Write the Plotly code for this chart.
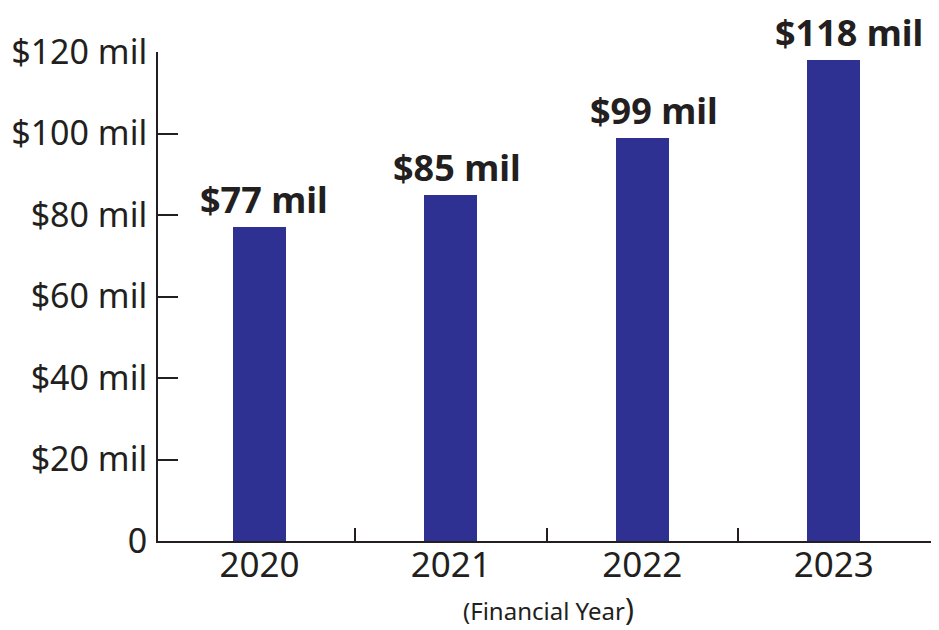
import plotly.graph_objects as go

years = ["2020", "2021", "2022", "2023"]
revenue = [77, 85, 99, 118]
bar_labels = ["$77 mil", "$85 mil", "$99 mil", "$118 mil"]
y_tick_values = [0, 20, 40, 60, 80, 100, 120]
y_tick_labels = ["0", "$20 mil", "$40 mil", "$60 mil", "$80 mil", "$100 mil", "$120 mil"]
x_title = "(Financial Year"

x_pos = list(range(len(years)))
INK = "#231f20"
BAR = "#2e3192"
FONT = "Noto Sans"
label_nudge_px = [5, 6, 12, 15]  # horizontal pixel nudges of the value labels (styling)

fig = go.Figure()
fig.add_trace(go.Bar(x=x_pos, y=revenue, width=0.277, marker=dict(color=BAR, line=dict(width=0)),
                     hoverinfo="skip"))

for xp, v, t, dx in zip(x_pos, revenue, bar_labels, label_nudge_px):
    fig.add_annotation(x=xp, y=v, text="<b>" + t + "</b>", showarrow=False, yanchor="bottom",
                       yshift=2, xshift=dx, borderpad=0, font=dict(family=FONT, size=36, color=INK))

# x-axis title as a paper annotation so it can sit at the very bottom edge
fig.add_annotation(xref="paper", yref="paper", x=0.5, y=0, yanchor="bottom", yshift=-89,
                   text=x_title + "<span style='font-size:30px'>)</span>", showarrow=False,
                   borderpad=0, font=dict(family=FONT, size=24, color=INK))

# page body has an 8px default margin, so the figure is sized to fill the rest of the window
fig.update_layout(
    width=931, height=622,
    margin=dict(l=150, r=0, t=44, b=89),
    paper_bgcolor="white", plot_bgcolor="white",
    showlegend=False,
    bargap=0,
    font=dict(family=FONT, color=INK),
)
fig.update_xaxes(
    range=[-0.53, 3.55],
    tickmode="array", tickvals=x_pos, ticktext=years,
    ticks="", showgrid=False, zeroline=False,
    showline=True, linecolor=INK, linewidth=2,
    tickfont=dict(family=FONT, size=35, color=INK),
    ticklabelstandoff=-8,
    minor=dict(tickmode="array", tickvals=[0.5, 1.5, 2.5], ticks="inside", ticklen=13,
               tickwidth=1.5, tickcolor=INK, showgrid=False),
    automargin=False,
)
fig.update_yaxes(
    range=[0, 120],
    tickmode="array", tickvals=y_tick_values, ticktext=y_tick_labels,
    ticks="inside", ticklen=20, tickwidth=2, tickcolor=INK,
    showgrid=False, zeroline=False,
    showline=True, linecolor=INK, linewidth=2,
    tickfont=dict(family=FONT, size=34, color=INK),
    ticklabelstandoff=2,
    automargin=False,
)

fig.write_html("out.html")
